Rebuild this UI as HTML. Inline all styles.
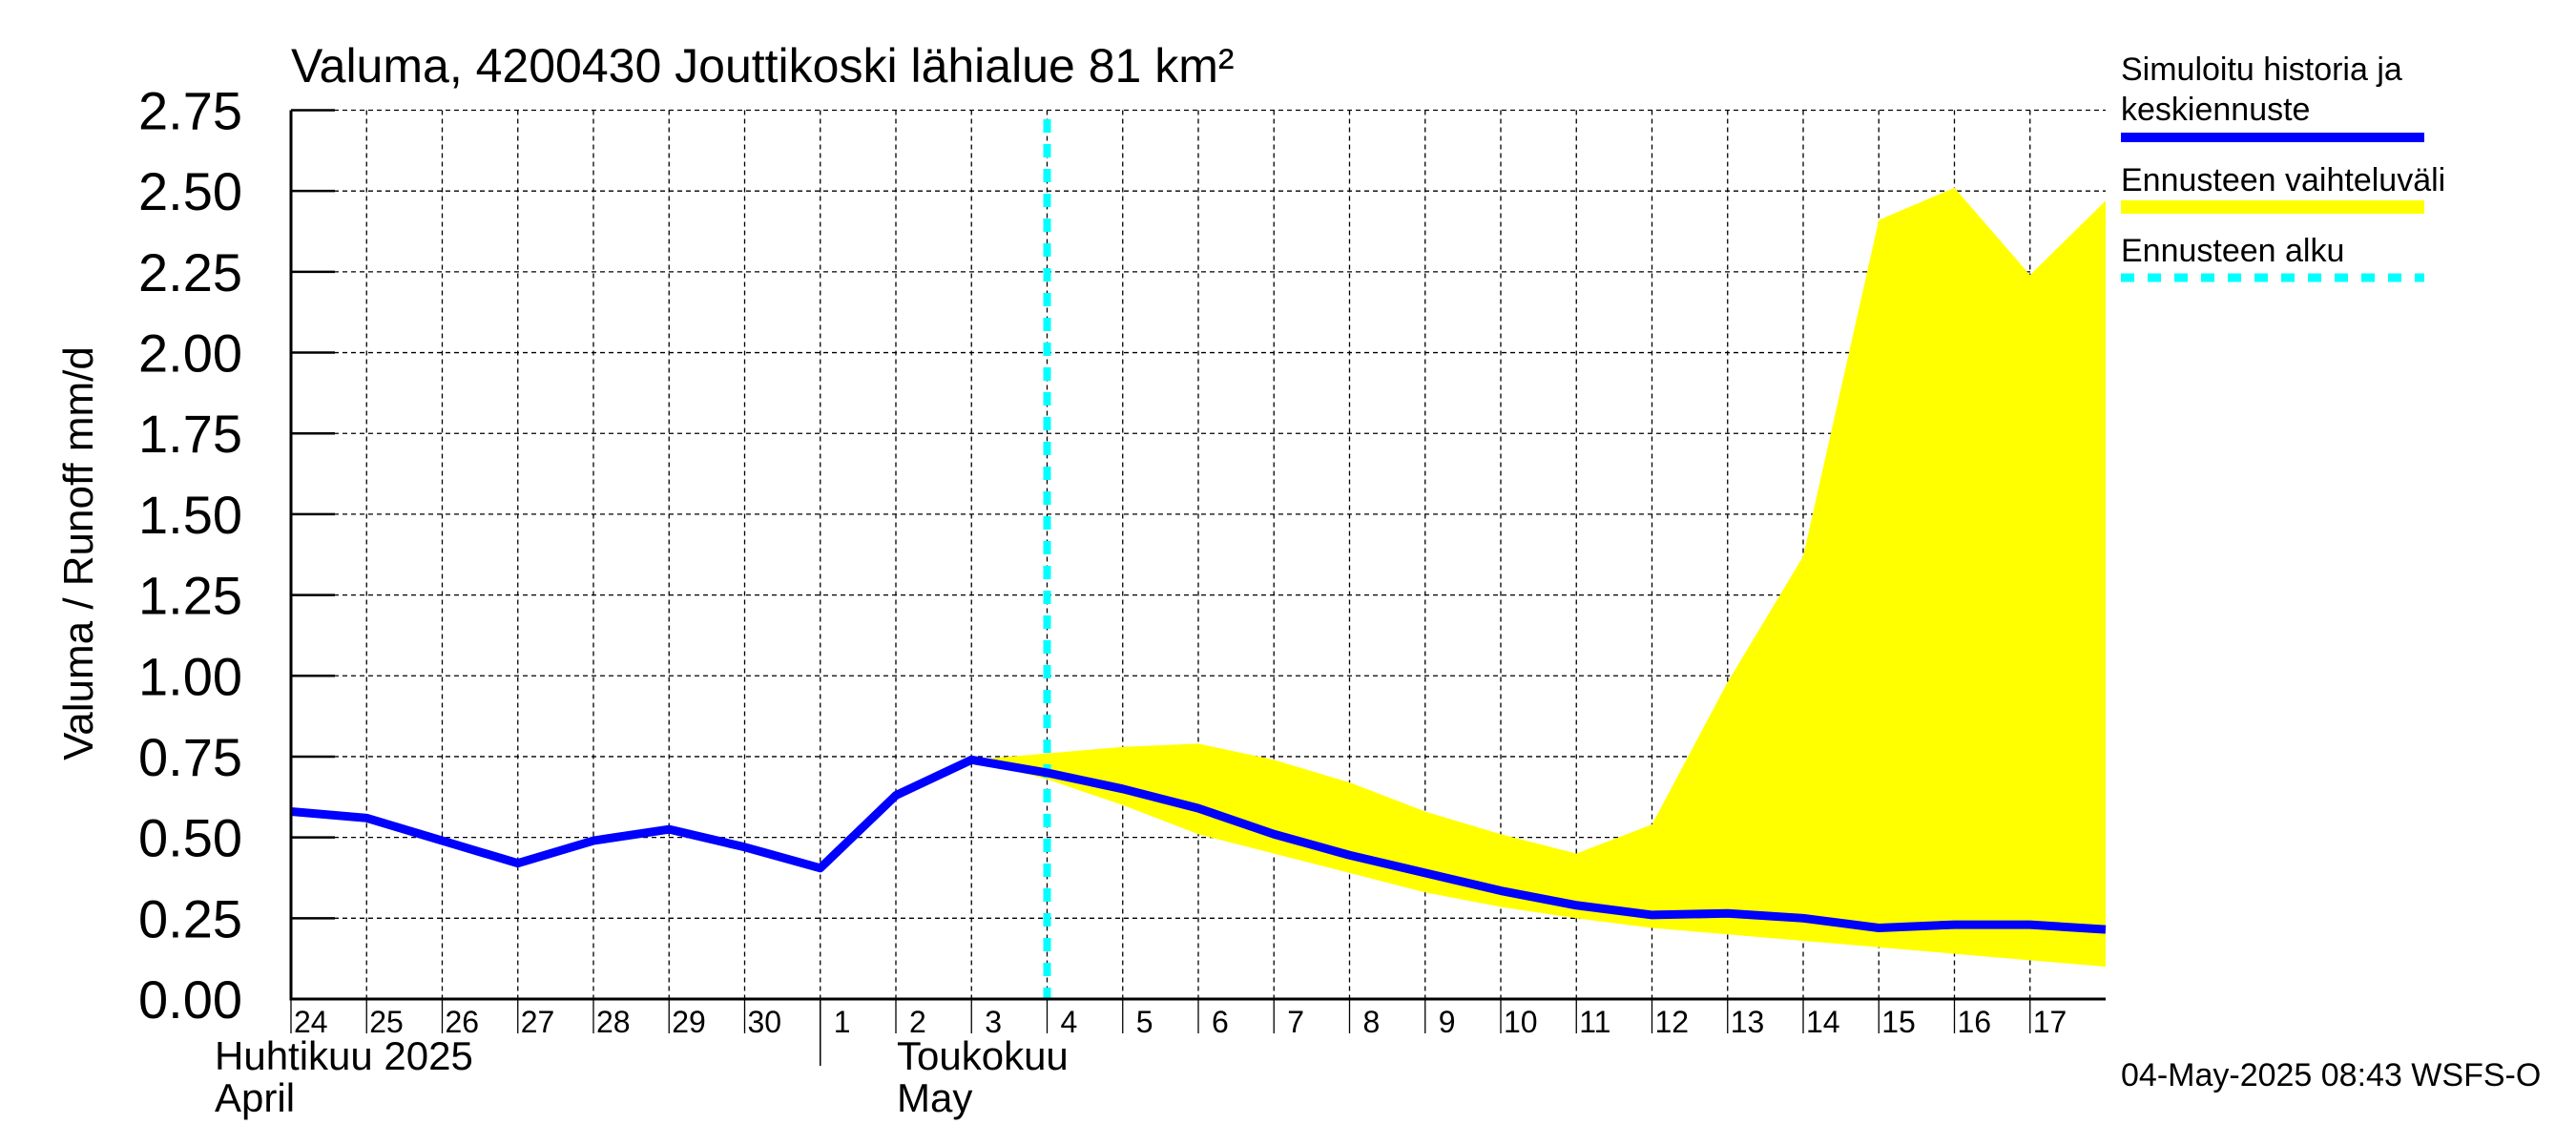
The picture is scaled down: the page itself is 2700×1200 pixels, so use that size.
<!DOCTYPE html>
<html><head><meta charset="utf-8"><style>
html,body{margin:0;padding:0;background:#fff}
svg{display:block}
text{font-family:"Liberation Sans",sans-serif;fill:#000}
</style></head><body>
<svg id="chart" width="2700" height="1200" viewBox="0 0 2700 1200">
<text x="305" y="86" font-size="50">Valuma, 4200430 Jouttikoski lähialue 81 km²</text>
<g id="grid"></g>
<g id="band"></g>
<g id="series"></g>
<g id="axes"></g>
<text transform="translate(97,580) rotate(-90)" text-anchor="middle" font-size="44">Valuma / Runoff    mm/d</text>
<text x="225" y="1121" font-size="42">Huhtikuu  2025</text>
<text x="225" y="1165" font-size="42">April</text>
<text x="940" y="1121" font-size="42">Toukokuu</text>
<text x="940" y="1165" font-size="42">May</text>
<g>
<text x="2223" y="84" font-size="34">Simuloitu historia ja</text>
<text x="2223" y="126" font-size="34">keskiennuste</text>
<line x1="2223" y1="144" x2="2541" y2="144" stroke="#0000ff" stroke-width="10"/>
<text x="2223" y="200" font-size="34">Ennusteen vaihteluväli</text>
<line x1="2223" y1="217" x2="2541" y2="217" stroke="#ffff00" stroke-width="14"/>
<text x="2223" y="274" font-size="34">Ennusteen alku</text>
<line x1="2223" y1="291" x2="2541" y2="291" stroke="#00ffff" stroke-width="9" stroke-dasharray="14,14"/>
</g>
<text x="2223" y="1138" font-size="34">04-May-2025 08:43 WSFS-O</text>
</svg>
<script>
const dayLabels=["24","25","26","27","28","29","30","1","2","3","4","5","6","7","8","9","10","11","12","13","14","15","16","17"];
const yTicks=[0,0.25,0.5,0.75,1,1.25,1.5,1.75,2,2.25,2.5,2.75];
const simValues=[0.58,0.56,0.49,0.42,0.49,0.525,0.47,0.405,0.63,0.74,0.70,0.65,0.59,0.51,0.445,0.39,0.335,0.29,0.26,0.265,0.25,0.22,0.23,0.23,0.215];
const bandStart=9;
const bandUpper=[0.74,0.76,0.78,0.79,0.74,0.67,0.58,0.51,0.45,0.54,0.98,1.37,2.41,2.51,2.24,2.47];
const bandLower=[0.74,0.68,0.60,0.51,0.45,0.39,0.33,0.285,0.25,0.22,0.20,0.18,0.16,0.14,0.12,0.10];
const forecastStart=10;
const NS="http://www.w3.org/2000/svg";
const X0=305,X1=2207,Y0=1047,Y1=115.5,NDAYS=24,YMAX=2.75;
const xs=d=>X0+(X1-X0)*d/NDAYS;
const ys=v=>Y0-(Y0-Y1)*v/YMAX;
function mk(p,tag,attrs){const e=document.createElementNS(NS,tag);for(const k in attrs)e.setAttribute(k,attrs[k]);p.appendChild(e);return e;}
const grid=document.getElementById('grid'),axes=document.getElementById('axes'),band=document.getElementById('band'),series=document.getElementById('series');
yTicks.forEach((v,i)=>{
  if(i>0){const g=mk(grid,'line',{x1:X0,x2:X1,y1:ys(v),y2:ys(v),stroke:'#000','stroke-width':1.3,'stroke-dasharray':'5,4'});
  
  }
  const t=mk(axes,'line',{x1:X0,x2:X0+46,y1:ys(v),y2:ys(v),stroke:'#000','stroke-width':2.5});
  
  
  const l=mk(axes,'text',{x:254,y:ys(v)+20,'text-anchor':'end','font-size':56});
  l.textContent=v.toFixed(2);
  
  
});
dayLabels.forEach((s,i)=>{
  if(i>0){const g=mk(grid,'line',{x1:xs(i),x2:xs(i),y1:Y1,y2:Y0,stroke:'#000','stroke-width':1.3,'stroke-dasharray':'5,4'});
  
  }
  const t=mk(axes,'line',{x1:xs(i),x2:xs(i),y1:Y0,y2:Y0+36,stroke:'#000','stroke-width':1.3});
  
  
  const l=mk(axes,'text',{x:xs(i)+(s.length===1?14:3),y:1082,'font-size':32});
  l.textContent=s;
  
  
});
const sep=mk(axes,'line',{x1:xs(7),x2:xs(7),y1:Y0,y2:1117,stroke:'#000','stroke-width':1.5});


let pts=bandUpper.map((v,i)=>xs(bandStart+i)+','+ys(v));
pts=pts.concat(bandLower.map((v,i)=>xs(bandStart+i)+','+ys(v)).reverse());
const poly=mk(band,'polygon',{points:pts.join(' '),fill:'#ffff00'});


const ax=mk(axes,'polyline',{points:`${X0},${Y1} ${X0},${Y0} ${X1},${Y0}`,fill:'none',stroke:'#000','stroke-width':3});


const fs=mk(series,'line',{x1:xs(forecastStart),x2:xs(forecastStart),y1:125,y2:Y0,stroke:'#00ffff','stroke-width':8,'stroke-dasharray':'14,12'});


const sim=mk(series,'polyline',{points:simValues.map((v,i)=>xs(i)+','+ys(v)).join(' '),fill:'none',stroke:'#0000ff','stroke-width':9,'stroke-linejoin':'round'});


</script>
</body></html>
